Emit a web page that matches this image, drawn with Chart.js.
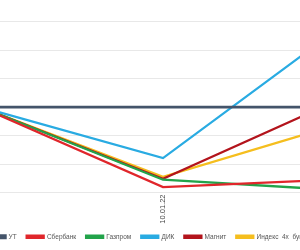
<!DOCTYPE html>
<html>
<head>
<meta charset="utf-8">
<script src="https://cdn.jsdelivr.net/npm/chart.js@4"></script>
<style>
  html, body { margin: 0; padding: 0; background: #fff; overflow: hidden; }
  #view { position: relative; width: 300px; height: 250px; overflow: hidden; }
  #wrap { position: absolute; left: -47px; top: -20px; width: 420px; height: 270px; }
</style>
</head>
<body>
<div id="view"><div id="wrap"><canvas id="myChart"></canvas></div></div>
<script>
const labels = ["03.01.22", "10.01.22", "17.01.22"];
const seriesNames = ["УТ", "Сбербанк", "Газпром", "ДИК", "Магнит", "Индекс  4х  бумаг"];
const ut = [0, 0, 0];
const sber = [0, -2.81, -2.53];
const gazprom = [0, -2.55, -2.93];
const dik = [0, -1.79, 2.94];
const magnit = [0, -2.52, 0.36];
const index4 = [0, -2.45, -0.53];
const colors = ["#44546a", "#e0262b", "#22a34a", "#29abe2", "#b3141c", "#f5be1e"];

const values = [ut, sber, gazprom, dik, magnit, index4];

const ctx = document.getElementById("myChart").getContext("2d");
new Chart(ctx, {
  type: "line",
  data: {
    labels,
    datasets: values.map((data, i) => ({
      label: seriesNames[i],
      data,
      borderColor: colors[i],
      backgroundColor: colors[i],
      borderWidth: i === 0 ? 2.8 : 2.3,
      pointRadius: 0,
      tension: 0,
    })),
  },
  options: {
    responsive: true,
    maintainAspectRatio: false,
    animation: false,
    layout: { padding: { top: 13.5, left: 0, right: 28, bottom: 0 } },
    plugins: {
      tooltip: { enabled: false },
      legend: {
        position: "bottom",
        labels: {
          boxWidth: 17,
          boxHeight: 2,
          padding: 10,
          color: "#555",
          font: { family: "Liberation Sans", size: 6.5 },
        },
      },
    },
    scales: {
      x: {
        offset: false,
        grid: { display: false, drawTicks: false },
        border: { display: false },
        ticks: {
          minRotation: 90,
          maxRotation: 90,
          padding: 2,
          color: "#444",
          font: { family: "Liberation Sans", size: 7.5 },
        },
        afterFit: (s) => { s.height = 31; },
      },
      y: {
        min: -3,
        max: 4,
        grid: { color: "#e8e8e8", lineWidth: 1, drawTicks: false },
        border: { display: false },
        ticks: { display: false, stepSize: 1 },
        afterFit: (s) => { s.width = 28; },
      },
    },
  },
});
</script>
</body>
</html>
